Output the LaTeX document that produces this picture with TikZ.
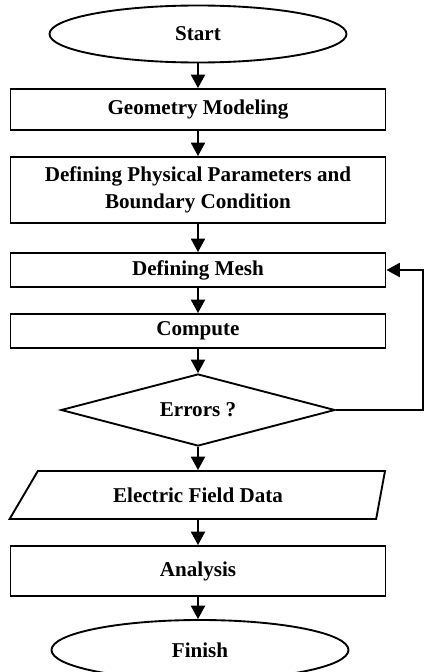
\documentclass[tikz,border=0pt]{standalone}
\usepackage{fontspec}
\setmainfont{Liberation Serif}
\usetikzlibrary{shapes.geometric,arrows.meta}

\tikzset{
  flowline/.style={line width=1.6pt},
  flow/.style={flowline, -{Triangle[width=0.42cm,length=0.4cm]}},
  label text/.style={font=\bfseries\fontsize{18}{23}\selectfont, align=center, inner sep=0pt},
  box/.style={draw, flowline, label text, rectangle, minimum width=11.25cm},
  term/.style={draw, flowline, label text, ellipse},
  check/.style={draw, flowline, label text, diamond, aspect=3.8},
  io/.style={draw, flowline, label text, trapezium, trapezium stretches=true,
    trapezium left angle=49.5, trapezium right angle=105}
}

\begin{document}
\begin{tikzpicture}[x=0.03cm, y=-0.03cm]
  \useasboundingbox (0,0) rectangle (425,672);
  \clip (0,0) rectangle (425,672);

  % Main steps, top to bottom
  \node[term, minimum width=8.91cm, minimum height=1.71cm] (start) at (198,34) {Start};
  \node[box, minimum height=1.23cm] (geom) at (198,109.5) {Geometry Modeling};
  \node[box, minimum height=1.98cm] (phys) at (198,190) {Defining Physical Parameters and\\Boundary Condition};
  \node[box, minimum height=1.02cm] (mesh) at (198,270) {Defining Mesh};
  \node[box, minimum height=1.02cm] (comp) at (198,331) {Compute};
  \node[check, minimum width=8.22cm, minimum height=2.16cm] (err) at (198,410) {Errors ?};
  % body sits right of the slanted edge, so pull the text back left
  \node[io, minimum width=11.28cm, minimum height=1.44cm] (data) at (207,495) {\hspace*{-0.54cm}Electric Field Data};
  \node[box, minimum height=1.5cm] (ana) at (198,571) {Analysis};
  \node[term, minimum width=8.91cm, minimum height=1.8cm] (fin) at (200,650) {Finish};

  % Arrows between the steps, all on one vertical
  \foreach \a/\b in {start/geom, geom/phys, phys/mesh, mesh/comp, comp/err, err/data, data/ana, ana/fin} {
    \draw[flow] (\a.south -| start.south) -- (\b.north -| start.south);
  }

  % Back to meshing when there are errors
  \coordinate (loop) at (423,410);
  \draw[flow] (err.east) -- (loop) |- (mesh.east);

\end{tikzpicture}
\end{document}
